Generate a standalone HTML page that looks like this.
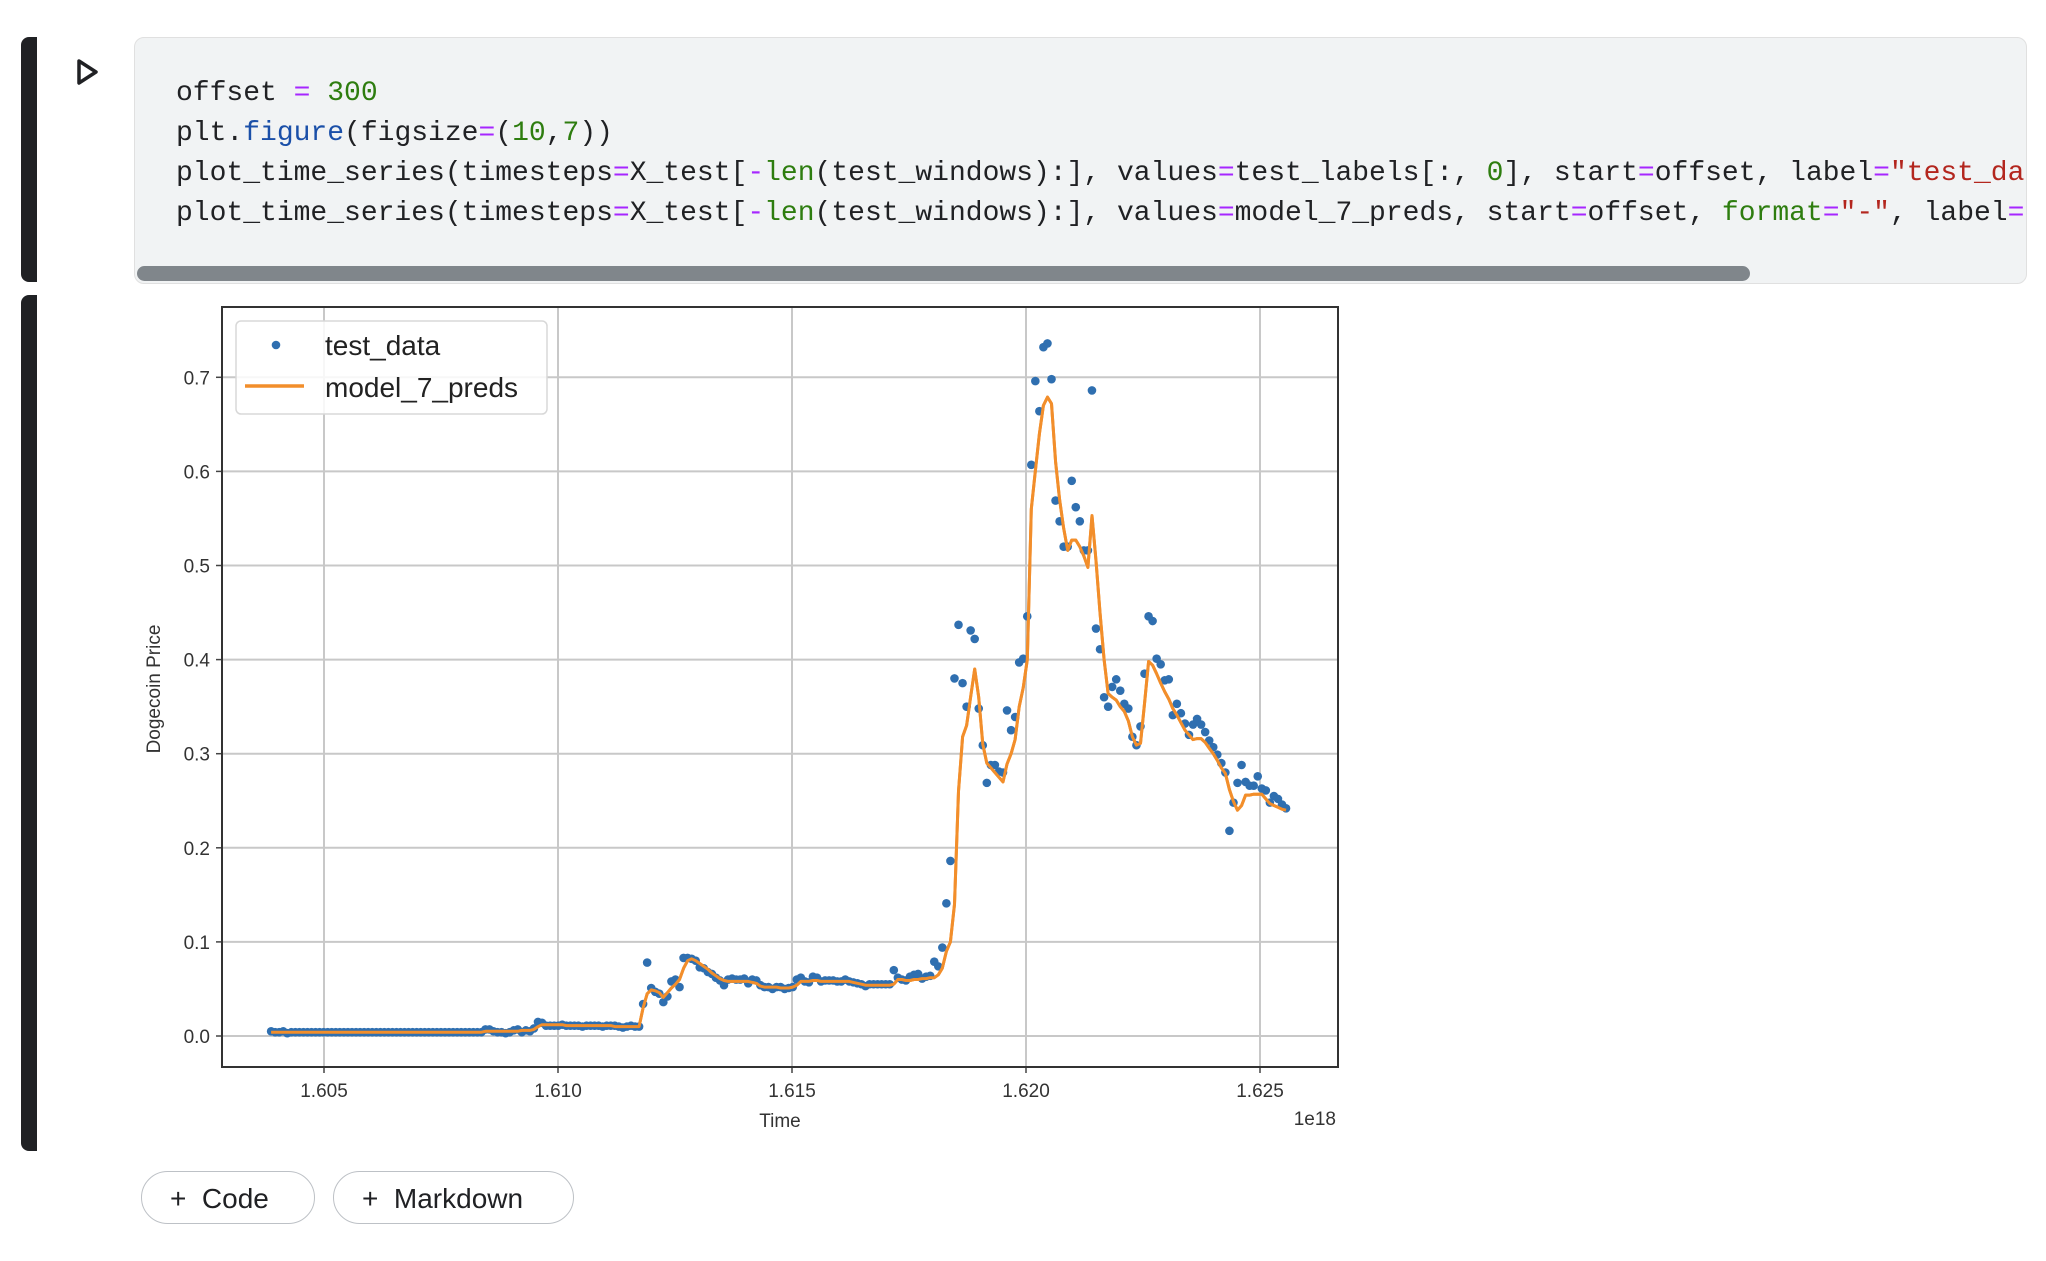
<!DOCTYPE html>
<html><head><meta charset="utf-8"><style>
body{margin:0;width:2046px;height:1261px;background:#fff;position:relative;overflow:hidden;font-family:"Liberation Sans",sans-serif}
.bar{position:absolute;left:21px;width:16px;background:#202124;border-radius:8px 0 0 8px}
.cell{position:absolute;left:134px;top:37px;width:1891px;height:245px;background:#f1f3f4;border:1px solid #e0e0e0;border-radius:10px;overflow:hidden}
.code{position:absolute;left:41px;top:36px;font-family:"Liberation Mono",monospace;font-size:28px;line-height:40px;color:#202124;white-space:pre}
.op{color:#a626ff}.num{color:#2e7d0f}.fn{color:#1a4fa8}.kw{color:#2e7d0f}.str{color:#b3261e}
.sb{position:absolute;left:2px;top:228px;width:1613px;height:15px;background:#80868b;border-radius:8px}
.btn{position:absolute;top:1171px;height:53px;border:1.5px solid #bdc1c6;border-radius:27px;font-size:28px;color:#202124;line-height:53px;box-sizing:border-box;padding-left:28px}
</style></head><body>
<div class="bar" style="top:37px;height:245px"></div>
<div class="bar" style="top:295px;height:856px"></div>
<svg style="position:absolute;left:76px;top:58px" width="24" height="28"><path d="M3 3 L20 14 L3 25 Z" fill="none" stroke="#202124" stroke-width="3.5" stroke-linejoin="round"/></svg>
<div class="cell">
<div class="code">offset <span class="op">=</span> <span class="num">300</span>
plt.<span class="fn">figure</span>(figsize<span class="op">=</span>(<span class="num">10</span>,<span class="num">7</span>))
plot_time_series(timesteps<span class="op">=</span>X_test[<span class="op">-</span><span class="kw">len</span>(test_windows):], values<span class="op">=</span>test_labels[:, <span class="num">0</span>], start<span class="op">=</span>offset, label<span class="op">=</span><span class="str">"test_data"</span>)
plot_time_series(timesteps<span class="op">=</span>X_test[<span class="op">-</span><span class="kw">len</span>(test_windows):], values<span class="op">=</span>model_7_preds, start<span class="op">=</span>offset, <span class="kw">format</span><span class="op">=</span><span class="str">"-"</span>, label<span class="op">=</span><span class="str">"model_7_preds"</span>)</div>
<div class="sb"></div>
</div>
<svg id="chart" style="position:absolute;left:0;top:0" width="2046" height="1261"></svg>
<div class="btn" style="left:141px;width:174px">+&nbsp; Code</div>
<div class="btn" style="left:333px;width:241px">+&nbsp; Markdown</div>
<script>
const startTime = 1.60387; // 1e18
const dayStep = 0.0000864;
const xTicks = [1.605, 1.610, 1.615, 1.620, 1.625];
const xTickLabels = ["1.605","1.610","1.615","1.620","1.625"];
const yTicks = [0,0.1,0.2,0.3,0.4,0.5,0.6,0.7];
const yTickLabels = ["0.0","0.1","0.2","0.3","0.4","0.5","0.6","0.7"];
const testData = [
.005,.004,.004,.005,.003,.004,.004,.004,.004,.004,
.004,.004,.004,.004,.004,.004,.004,.004,.004,.004,
.004,.004,.004,.004,.004,.004,.004,.004,.004,.004,
.004,.004,.004,.004,.004,.004,.004,.004,.004,.004,
.004,.004,.004,.004,.004,.004,.004,.004,.004,.004,
.004,.004,.004,.007,.007,.005,.004,.004,.003,.004,
.006,.007,.004,.006,.005,.008,.015,.014,.011,.011,
.011,.011,.012,.011,.011,.011,.011,.010,.011,.011,
.011,.011,.010,.011,.011,.011,.010,.009,.010,.011,
.010,.010,.034,.078,.051,.047,.045,.036,.042,.058,
.060,.052,.083,.083,.082,.080,.073,.072,.068,.066,
.062,.059,.054,.060,.061,.060,.060,.061,.056,.060,
.059,.054,.052,.052,.050,.052,.052,.050,.051,.052,
.060,.062,.058,.057,.063,.062,.058,.059,.059,.059,
.058,.058,.060,.058,.057,.056,.055,.053,.055,.055,
.055,.055,.055,.055,.070,.062,.060,.059,.063,.065,
.066,.061,.063,.064,.079,.074,.094,.141,.186,.380,
.437,.375,.350,.431,.422,.348,.309,.269,.288,.288,
.281,.280,.346,.325,.339,.397,.401,.446,.607,.696,
.664,.732,.736,.698,.569,.547,.520,.520,.590,.562,
.547,.516,.516,.686,.433,.411,.360,.350,.371,.379,
.367,.353,.348,.318,.309,.329,.385,.446,.441,.401,
.395,.378,.379,.341,.353,.343,.332,.320,.331,.337,
.331,.323,.314,.307,.299,.290,.280,.218,.248,.269,
.288,.270,.266,.266,.276,.263,.261,.248,.255,.252,
.246,.242];
const modelPreds = [
.004,.004,.004,.004,.004,.004,.004,.004,.004,.004,
.004,.004,.004,.004,.004,.004,.004,.004,.004,.004,
.004,.004,.004,.004,.004,.004,.004,.004,.004,.004,
.004,.004,.004,.004,.004,.004,.004,.004,.004,.004,
.004,.004,.004,.004,.004,.004,.004,.004,.004,.004,
.004,.004,.004,.005,.005,.005,.005,.005,.005,.005,
.005,.005,.006,.006,.006,.007,.010,.012,.012,.012,
.012,.012,.012,.011,.011,.011,.011,.011,.011,.011,
.011,.011,.011,.011,.011,.010,.010,.010,.010,.010,
.010,.010,.030,.045,.049,.048,.046,.041,.046,.051,
.055,.060,.072,.080,.082,.080,.077,.074,.071,.067,
.064,.061,.059,.058,.058,.058,.058,.058,.058,.057,
.056,.053,.052,.052,.052,.052,.051,.051,.051,.052,
.054,.058,.058,.058,.059,.059,.058,.058,.058,.058,
.058,.058,.058,.058,.057,.056,.055,.054,.054,.054,
.054,.054,.054,.054,.055,.060,.060,.059,.059,.060,
.060,.061,.061,.062,.062,.065,.072,.090,.100,.140,
.260,.318,.330,.360,.390,.360,.310,.290,.285,.280,
.275,.270,.289,.300,.315,.350,.370,.400,.560,.600,
.640,.670,.679,.672,.610,.570,.540,.516,.527,.527,
.520,.510,.498,.553,.505,.450,.400,.364,.360,.357,
.350,.345,.335,.318,.309,.311,.353,.398,.394,.385,
.375,.366,.358,.348,.341,.333,.325,.320,.315,.316,
.316,.312,.306,.300,.293,.285,.279,.262,.249,.240,
.245,.256,.256,.257,.257,.257,.252,.247,.245,.243,
.241,.240];

const NS="http://www.w3.org/2000/svg";
const svg=document.getElementById('chart');
const L=222,R=1338,T=307,B=1067;
const xs=x=>324+(x-1.605)/0.005*234;
const ys=y=>1036-y*941;
function mk(tag,attrs,parent){const e=document.createElementNS(NS,tag);for(const k in attrs)e.setAttribute(k,attrs[k]);(parent||svg).appendChild(e);return e;}
// grid
xTicks.forEach((t,i)=>{
  const g=mk('line',{x1:xs(t),x2:xs(t),y1:T,y2:B,stroke:'#c8c8c8','stroke-width':2});
  
  
  const tk=mk('line',{x1:xs(t),x2:xs(t),y1:B,y2:B+6,stroke:'#444','stroke-width':1.5});
  
  
  const tx=mk('text',{x:xs(t),y:B+30,'text-anchor':'middle','font-size':19,fill:'#333','font-family':'Liberation Sans, sans-serif'});
  tx.textContent=xTickLabels[i];
  
  
});
yTicks.forEach((t,i)=>{
  const g=mk('line',{x1:L,x2:R,y1:ys(t),y2:ys(t),stroke:'#c8c8c8','stroke-width':2});
  
  
  const tk=mk('line',{x1:L-6,x2:L,y1:ys(t),y2:ys(t),stroke:'#444','stroke-width':1.5});
  
  
  const tx=mk('text',{x:L-12,y:ys(t)+7,'text-anchor':'end','font-size':19,fill:'#333','font-family':'Liberation Sans, sans-serif'});
  tx.textContent=yTickLabels[i];
  
  
});
// preds line
let d='';
modelPreds.forEach((v,i)=>{d+=(i?'L':'M')+xs(startTime+i*dayStep).toFixed(1)+' '+ys(v).toFixed(1);});
const ln=mk('path',{d:d,fill:'none',stroke:'#f28e2b','stroke-width':3,'stroke-linejoin':'round'});


// dots
testData.forEach((v,i)=>{
  const c=mk('circle',{cx:xs(startTime+i*dayStep),cy:ys(v),r:4.3,fill:'#2f6fb0'});
  
  
});
// re-draw line on top lightly (matplotlib draws preds after dots)
const ln2=mk('path',{d:d,fill:'none',stroke:'#f28e2b','stroke-width':3,'stroke-linejoin':'round'});


// frame
const fr=mk('rect',{x:L,y:T,width:R-L,height:B-T,fill:'none',stroke:'#333','stroke-width':2});


// legend
const lg=mk('rect',{x:236,y:321,width:311,height:93,rx:5,fill:'#fff','fill-opacity':0.85,stroke:'#d8d8d8','stroke-width':1.5});


const ld=mk('circle',{cx:276,cy:345,r:4.3,fill:'#2f6fb0'});


const ll=mk('line',{x1:245,x2:304,y1:386,y2:386,stroke:'#f28e2b','stroke-width':3.5});


const t1=mk('text',{x:325,y:355,'font-size':28,fill:'#222','font-family':'Liberation Sans, sans-serif'});
t1.textContent='test_data';


const t2=mk('text',{x:325,y:397,'font-size':28,fill:'#222','font-family':'Liberation Sans, sans-serif'});
t2.textContent='model_7_preds';


// axis titles
const xt=mk('text',{x:780,y:1127,'text-anchor':'middle','font-size':19,fill:'#333','font-family':'Liberation Sans, sans-serif'});
xt.textContent='Time';


const ex=mk('text',{x:1336,y:1125,'text-anchor':'end','font-size':19,fill:'#333','font-family':'Liberation Sans, sans-serif'});
ex.textContent='1e18';


const yt=mk('text',{x:0,y:0,'text-anchor':'middle','font-size':19,fill:'#333','font-family':'Liberation Sans, sans-serif',transform:'translate(160,689) rotate(-90)'});
yt.textContent='Dogecoin Price';


</script>
</body></html>
